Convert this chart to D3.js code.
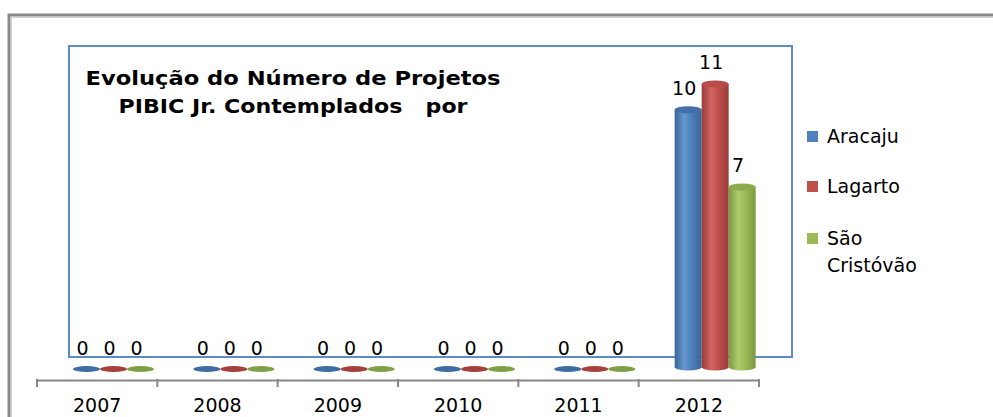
<!DOCTYPE html>
<html><head><meta charset="utf-8">
<script src="https://cdn.jsdelivr.net/npm/d3@7"></script>
<style>
html,body{margin:0;padding:0;background:#fff;overflow:hidden}
svg{display:block}
text{font-family:"DejaVu Sans",sans-serif;fill:#000}
</style></head>
<body>
<script>
const years = ["2007","2008","2009","2010","2011","2012"];
const seriesNames = ["Aracaju","Lagarto","São Cristóvão"];
const aracaju = [0,0,0,0,0,10];
const lagarto = [0,0,0,0,0,11];
const saoCristovao = [0,0,0,0,0,7];
const titleLines = ["Evolução do Número de Projetos","PIBIC Jr. Contemplados   por"];

const values = [aracaju, lagarto, saoCristovao];
const palette = [
  {base:"#4F81BD", dark:"#3A6697", light:"#6796D0", top:"#416FA8", flat:"#3E6DA3"},
  {base:"#C0504D", dark:"#9A3C3A", light:"#D26562", top:"#B84C49", flat:"#A5403D"},
  {base:"#9BBB59", dark:"#7A9A40", light:"#AECB6C", top:"#8CAB4D", flat:"#7FA047"}
];

const W = 993, H = 417;
const svg = d3.select("body").append("svg").attr("width", W).attr("height", H);

// outer frame
svg.append("rect").attr("x",9).attr("y",15).attr("width",1100).attr("height",600)
  .attr("fill","none").attr("stroke","#8a8a8a").attr("stroke-width",3);
svg.append("rect").attr("x",11.5).attr("y",17.5).attr("width",1100).attr("height",600)
  .attr("fill","none").attr("stroke","#d0d0d0").attr("stroke-width",1);

// blue box
svg.append("rect").attr("x",69).attr("y",46).attr("width",723).attr("height",311)
  .attr("fill","none").attr("stroke","#5B8BCB").attr("stroke-width",2);

// gradients
const defs = svg.append("defs");
palette.forEach((p,i)=>{
  const g = defs.append("linearGradient").attr("id","cyl"+i).attr("x1","0").attr("x2","1").attr("y1","0").attr("y2","0");
  g.append("stop").attr("offset","0%").attr("stop-color",p.dark);
  g.append("stop").attr("offset","35%").attr("stop-color",p.light);
  g.append("stop").attr("offset","60%").attr("stop-color",p.base);
  g.append("stop").attr("offset","100%").attr("stop-color",p.dark);
});

// title
const title = svg.append("g");
const tWidths = [415, 349];
titleLines.forEach((t,i)=>{
  title.append("text").attr("x",293).attr("y",85+i*28).attr("text-anchor","middle")
    .attr("font-size",19).attr("font-weight","bold").attr("xml:space","preserve")
    .style("white-space","pre")
    .attr("textLength",tWidths[i]).attr("lengthAdjust","spacingAndGlyphs").text(t);
});

// scales
const x = d3.scaleBand().domain(years).range([37,759]);
const xs = d3.scaleBand().domain(seriesNames).range([36,117]);
const y = d3.scaleLinear().domain([0,11]).range([367,84]);

// axis
const axisY = 380;
const axis = d3.axisBottom(x).tickSize(0);
const ag = svg.append("g").attr("transform",`translate(0,${axisY})`).call(axis);
ag.select(".domain").attr("stroke","#878787").attr("stroke-width",2);
ag.selectAll(".tick text").attr("font-size",19).attr("font-family","DejaVu Sans")
  .attr("fill","#000").attr("y",32).attr("dy",0);
// boundary ticks
const bounds = years.map(d=>x(d)).concat([x(years[years.length-1])+x.bandwidth()]);
svg.append("g").selectAll("line").data(bounds).join("line")
  .attr("x1",d=>d).attr("x2",d=>d).attr("y1",axisY-1).attr("y2",axisY+7)
  .attr("stroke","#878787").attr("stroke-width",2);

// bars
const ry = 3.5;
const bw = xs.bandwidth();
const barG = svg.append("g");
years.forEach((yr,j)=>{
  seriesNames.forEach((s,i)=>{
    const v = values[i][j];
    const cx = x(yr) + xs(s) + bw/2;
    const p = palette[i];
    const g = barG.append("g");
    if (v === 0) {
      g.append("ellipse").attr("cx",cx).attr("cy",y(0)+2).attr("rx",bw/2).attr("ry",3)
        .attr("fill",p.flat);
    } else {
      const yt = y(v), yb = y(0);
      g.append("path")
        .attr("d",`M${cx-bw/2},${yt} L${cx-bw/2},${yb} A${bw/2},${ry} 0 0 0 ${cx+bw/2},${yb} L${cx+bw/2},${yt} Z`)
        .attr("fill",`url(#cyl${i})`);
      g.append("ellipse").attr("cx",cx).attr("cy",yt).attr("rx",bw/2).attr("ry",ry)
        .attr("fill",p.top);
    }
    g.append("text").attr("x",cx-4).attr("y",(v===0? y(0)-12 : y(v)-15))
      .attr("text-anchor","middle").attr("font-size",19).text(v);
  });
});

// legend
const legendRows = [
  {name:seriesNames[0], lines:["Aracaju"], y:143},
  {name:seriesNames[1], lines:["Lagarto"], y:193},
  {name:seriesNames[2], lines:seriesNames[2].split(" "), y:245}
];
const lg = svg.append("g");
legendRows.forEach((r,i)=>{
  lg.append("rect").attr("x",807).attr("y",r.y-12).attr("width",11).attr("height",11)
    .attr("fill",palette[i].base);
  r.lines.forEach((l,k)=>{
    lg.append("text").attr("x",827).attr("y",r.y+k*27).attr("font-size",19).text(l);
  });
});
</script>
</body></html>
